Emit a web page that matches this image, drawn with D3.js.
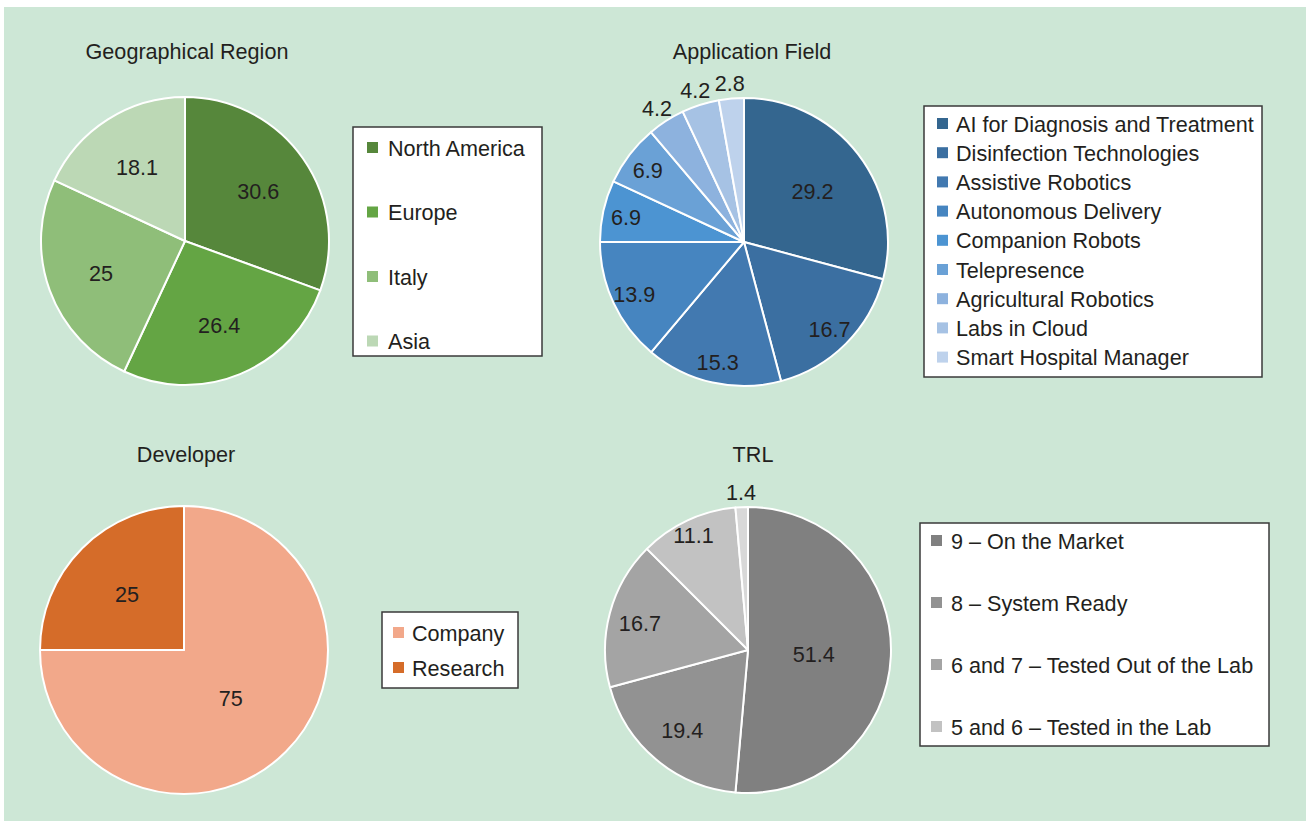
<!DOCTYPE html>
<html>
<head>
<meta charset="utf-8">
<script src="https://cdn.jsdelivr.net/npm/d3@7"></script>
<style>
  html, body { margin: 0; padding: 0; background: #ffffff; }
  svg { display: block; }
  text { font-family: "Liberation Sans", Arial, Helvetica, sans-serif; fill: #231f20; }
</style>
</head>
<body>
<svg id="chart" width="1306" height="821"></svg>
<script>
// ---- Data ----
const regionLabels = ["North America", "Europe", "Italy", "Asia"];
const regionValues = [30.6, 26.4, 25, 18.1];
const regionColors = ["#56873b", "#64a544", "#8fbe79", "#bcd8b5"];

const fieldLabels = [
  "AI for Diagnosis and Treatment", "Disinfection Technologies", "Assistive Robotics",
  "Autonomous Delivery", "Companion Robots", "Telepresence", "Agricultural Robotics",
  "Labs in Cloud", "Smart Hospital Manager"
];
const fieldValues = [29.2, 16.7, 15.3, 13.9, 6.9, 6.9, 4.2, 4.2, 2.8];
const fieldColors = ["#34668f", "#3b6fa1", "#4279b0", "#4685c0", "#4c94d2", "#6aa1d6", "#8db2de", "#a6c2e4", "#bed2ec"];

const developerLabels = ["Company", "Research"];
const developerValues = [75, 25];
const developerColors = ["#f2a88a", "#d56c29"];

const trlLabels = ["9 \u2013 On the Market", "8 \u2013 System Ready", "6 and 7 \u2013 Tested Out of the Lab", "5 and 6 \u2013 Tested in the Lab"];
const trlValues = [51.4, 19.4, 16.7, 11.1, 1.4];
const trlColors = ["#808080", "#929292", "#a4a4a4", "#c2c2c2", "#d8d8d8"];

// ---- Layout ----
const W = 1306, H = 821;
const svg = d3.select("#chart");

// page background with the thin white margin on top and left
svg.append("rect").attr("x", 0).attr("y", 0).attr("width", W).attr("height", H).attr("fill", "#ffffff");
svg.append("rect").attr("x", 4).attr("y", 7).attr("width", W - 4).attr("height", H - 7).attr("fill", "#cde7d6");

const FONT = 21.6;

const charts = [
  {
    title: "Geographical Region", titleX: 187, titleY: 59,
    cx: 185, cy: 241, r: 144,
    labels: regionLabels, values: regionValues, colors: regionColors,
    labelFrac: v => 0.62,
    legend: { x: 353, y: 127, w: 189, h: 229, firstY: 147, step: 64.5, swX: 367, txtX: 388 }
  },
  {
    title: "Application Field", titleX: 752, titleY: 59,
    cx: 744, cy: 242, r: 144,
    labels: fieldLabels, values: fieldValues, colors: fieldColors,
    labelFrac: v => v >= 20 ? 0.6 : v >= 5 ? 0.84 : null,
    legend: { x: 924, y: 106, w: 338, h: 271, firstY: 123, step: 29.2, swX: 937, txtX: 956 }
  },
  {
    title: "Developer", titleX: 186, titleY: 462,
    cx: 184, cy: 650, r: 144,
    labels: developerLabels, values: developerValues, colors: developerColors,
    labelFrac: v => v >= 50 ? 0.46 : 0.56,
    legend: { x: 382, y: 612, w: 136, h: 76, firstY: 632, step: 35, swX: 393, txtX: 412 }
  },
  {
    title: "TRL", titleX: 753, titleY: 462,
    cx: 748, cy: 650, r: 143,
    labels: trlLabels, values: trlValues, colors: trlColors,
    labelFrac: v => v >= 40 ? 0.46 : v >= 5 ? Math.min(0.9, 1.2 - 0.025 * v) : null,
    legend: { x: 920, y: 523, w: 349, h: 223, firstY: 540, step: 62, swX: 931, txtX: 951 }
  }
];

const pie = d3.pie().sort(null).value(d => d).startAngle(0).endAngle(2 * Math.PI);

charts.forEach(c => {
  const g = svg.append("g").attr("transform", `translate(${c.cx},${c.cy})`);
  const arcs = pie(c.values);
  const arc = d3.arc().innerRadius(0).outerRadius(c.r);

  // slices
  g.selectAll("path.slice").data(arcs).enter().append("path")
    .attr("class", "slice")
    .attr("d", arc)
    .attr("fill", (d, i) => c.colors[i])
    .attr("stroke", "#ffffff")
    .attr("stroke-width", 2)
    .attr("stroke-linejoin", "round");

  // value labels: inside for wide slices, just outside the rim for narrow ones
  g.selectAll("text.val").data(arcs).enter().append("text")
    .attr("class", "val")
    .attr("font-size", FONT)
    .attr("text-anchor", "middle")
    .attr("dominant-baseline", "central")
    .attr("transform", d => {
      const a = (d.startAngle + d.endAngle) / 2;
      const f = c.labelFrac(d.value);
      const rr = f === null ? c.r + 17 : c.r * f;
      return `translate(${rr * Math.sin(a)},${-rr * Math.cos(a) + 2})`;
    })
    .text(d => d3.format("")(d.value));

  // title
  svg.append("text")
    .attr("x", c.titleX).attr("y", c.titleY)
    .attr("text-anchor", "middle")
    .attr("font-size", FONT)
    .text(c.title);

  // legend
  const L = c.legend;
  svg.append("rect")
    .attr("x", L.x).attr("y", L.y).attr("width", L.w).attr("height", L.h)
    .attr("fill", "#ffffff").attr("stroke", "#3a3a3a").attr("stroke-width", 1.5);
  const items = svg.append("g").selectAll("g").data(c.labels).enter().append("g")
    .attr("transform", (d, i) => `translate(0,${L.firstY + i * L.step})`);
  items.append("rect")
    .attr("x", L.swX).attr("y", -5).attr("width", 11).attr("height", 11)
    .attr("fill", (d, i) => c.colors[i]);
  items.append("text")
    .attr("x", L.txtX).attr("y", 1)
    .attr("dominant-baseline", "central")
    .attr("font-size", FONT)
    .text(d => d);
});
</script>
</body>
</html>
